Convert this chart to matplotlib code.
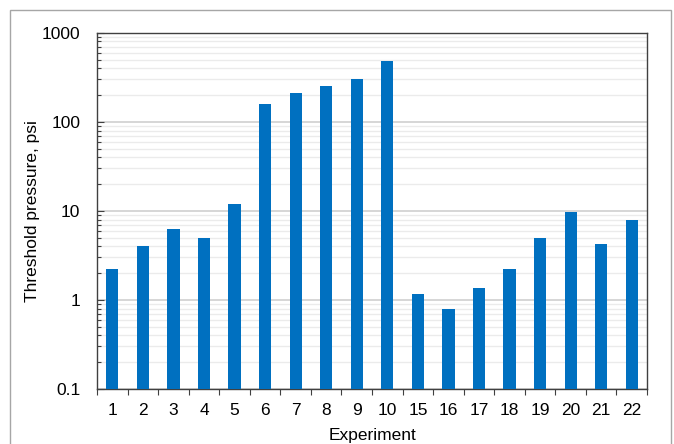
import matplotlib.pyplot as plt
import numpy as np
from matplotlib.patches import Rectangle
from matplotlib.ticker import FuncFormatter, LogLocator

plt.rcParams['font.family'] = ['Liberation Sans', 'DejaVu Sans']

experiments = ['1', '2', '3', '4', '5', '6', '7', '8', '9', '10',
               '15', '16', '17', '18', '19', '20', '21', '22']
threshold_psi = [2.2, 4.0, 6.2, 5.0, 12.0, 160, 210, 250, 300, 480,
                 1.18, 0.8, 1.37, 2.2, 5.0, 9.8, 4.2, 8.0]

fig = plt.figure(figsize=(6.74, 4.44), dpi=100)
ax = fig.add_axes([0.144, 0.124, 0.816, 0.802])

# frame around the whole figure
fig.patches.append(Rectangle((10 / 674, -0.05), 661 / 674, 1.05 - 10 / 444,
                             transform=fig.transFigure, fill=False,
                             edgecolor='#a6a6a6', linewidth=1.0))

x = np.arange(len(experiments))
ax.bar(x, threshold_psi, width=0.4, color='#0070c0', zorder=3)

ax.set_yscale('log')
ax.set_ylim(0.1, 1000)
ax.set_xlim(-0.5, len(experiments) - 0.5)

ax.yaxis.set_major_locator(LogLocator(base=10, numticks=10))
ax.yaxis.set_minor_locator(LogLocator(base=10, subs=np.arange(2, 10), numticks=10))
ax.yaxis.set_major_formatter(FuncFormatter(lambda v, p: '{:g}'.format(v)))
ax.yaxis.set_minor_formatter(FuncFormatter(lambda v, p: ''))
ax.grid(which='major', axis='y', color='#d0d0d0', linewidth=1.2, zorder=0)
ax.grid(which='minor', axis='y', color='#ebebeb', linewidth=1.0, zorder=0)
ax.tick_params(axis='y', which='major', direction='in', length=5, width=0.8,
               labelsize=12.5, pad=12, color='#404040')
ax.tick_params(axis='y', which='minor', direction='in', length=3, width=0.8,
               color='#404040')

ax.set_xticks(x)
ax.set_xticklabels(experiments)
ax.set_xticks(np.arange(-0.5, len(experiments), 1), minor=True)
ax.tick_params(axis='x', which='major', length=0, labelsize=12.5, pad=10)
ax.tick_params(axis='x', which='minor', direction='out', length=4, width=0.8,
               color='#404040')

for side in ax.spines.values():
    side.set_color('#404040')
    side.set_linewidth(1.0)

ax.set_xlabel('Experiment', fontsize=12.5, labelpad=7)
ax.set_ylabel('Threshold pressure, psi', fontsize=12.5, labelpad=1)

fig.savefig('out.png', dpi=100)
